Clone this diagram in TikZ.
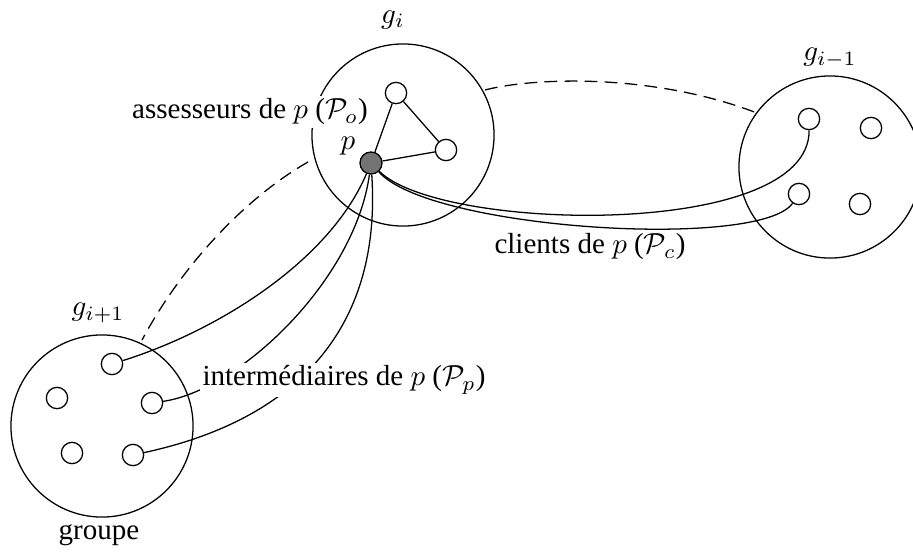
\documentclass[tikz,border=0pt]{standalone}
\usepackage{fontspec}
\setmainfont{Liberation Serif}
\begin{document}
\begin{tikzpicture}[x=0.3443pt,y=-0.3443pt,
  line width=0.44pt,
  grp/.style={draw,circle,minimum size=62.7pt,inner sep=0pt},
  pt/.style={draw,circle,fill=white,minimum size=7.35pt,inner sep=0pt},
  ppt/.style={draw,circle,fill=black!55,minimum size=7.6pt,inner sep=0pt},
  lbl/.style={fill=white,inner sep=1pt},
  dsh/.style={dash pattern=on 4.4pt off 2.5pt}]
\useasboundingbox (0,0) rectangle (913,554);
% groups
\node[grp] (gi) at (403,135) {};
\node[grp] (gim) at (830,167) {};
\node[grp] (gip) at (102,426) {};
\node (tgi) at (393,20) {$g_i$};
\node (tgim) at (830,58) {$g_{i-1}$};
\node (tgip) at (98,313) {$g_{i+1}$};
\node (tgr) at (99,535) {groupe};
% points in g_i
\node[pt] (a) at (396,93) {};
\node[pt] (b) at (446,150) {};
\node[ppt] (p) at (371,163) {};
\node (tp) at (348,146) {$p$};
% points in g_{i-1}
\node[pt] (c1) at (809,119) {};
\node[pt] (c2) at (871,128) {};
\node[pt] (c3) at (799,194) {};
\node[pt] (c4) at (860,204) {};
% points in g_{i+1}
\node[pt] (d1) at (112,364) {};
\node[pt] (d2) at (57,398) {};
\node[pt] (d3) at (152,403) {};
\node[pt] (d4) at (72,453) {};
\node[pt] (d5) at (133,455) {};
% assessors
\draw (p) -- (a) (a) -- (b) (p) -- (b);
% dashed inter-group links
\coordinate (s1) at (485,90);
\coordinate (e1) at (757,113);
\draw[dsh] (s1) .. controls (530,78) and (650,72) .. (e1);
\coordinate (s2) at (308,162);
\coordinate (e2) at (142,340);
\draw[dsh] (s2) .. controls (250,195) and (185,260) .. (e2);
% clients
\draw (p) .. controls (440,232) and (810,240) .. (c1);
\draw (p) .. controls (430,230) and (760,250) .. (c3);
% intermediaries
\draw (p) .. controls (330,260) and (220,330) .. (d1);
\draw (p) .. controls (355,280) and (240,390) .. (d3);
\draw (p) .. controls (382,330) and (295,420) .. (d5);
% labels
\node[lbl] (la) at (250,112) {assesseurs de $p$ ($\mathcal{P}_o$)};
\node[lbl] (lc) at (590,247) {clients de $p$ ($\mathcal{P}_c$)};
\node[lbl] (li) at (344,380) {intermédiaires de $p$ ($\mathcal{P}_p$)};
\end{tikzpicture}
\end{document}
